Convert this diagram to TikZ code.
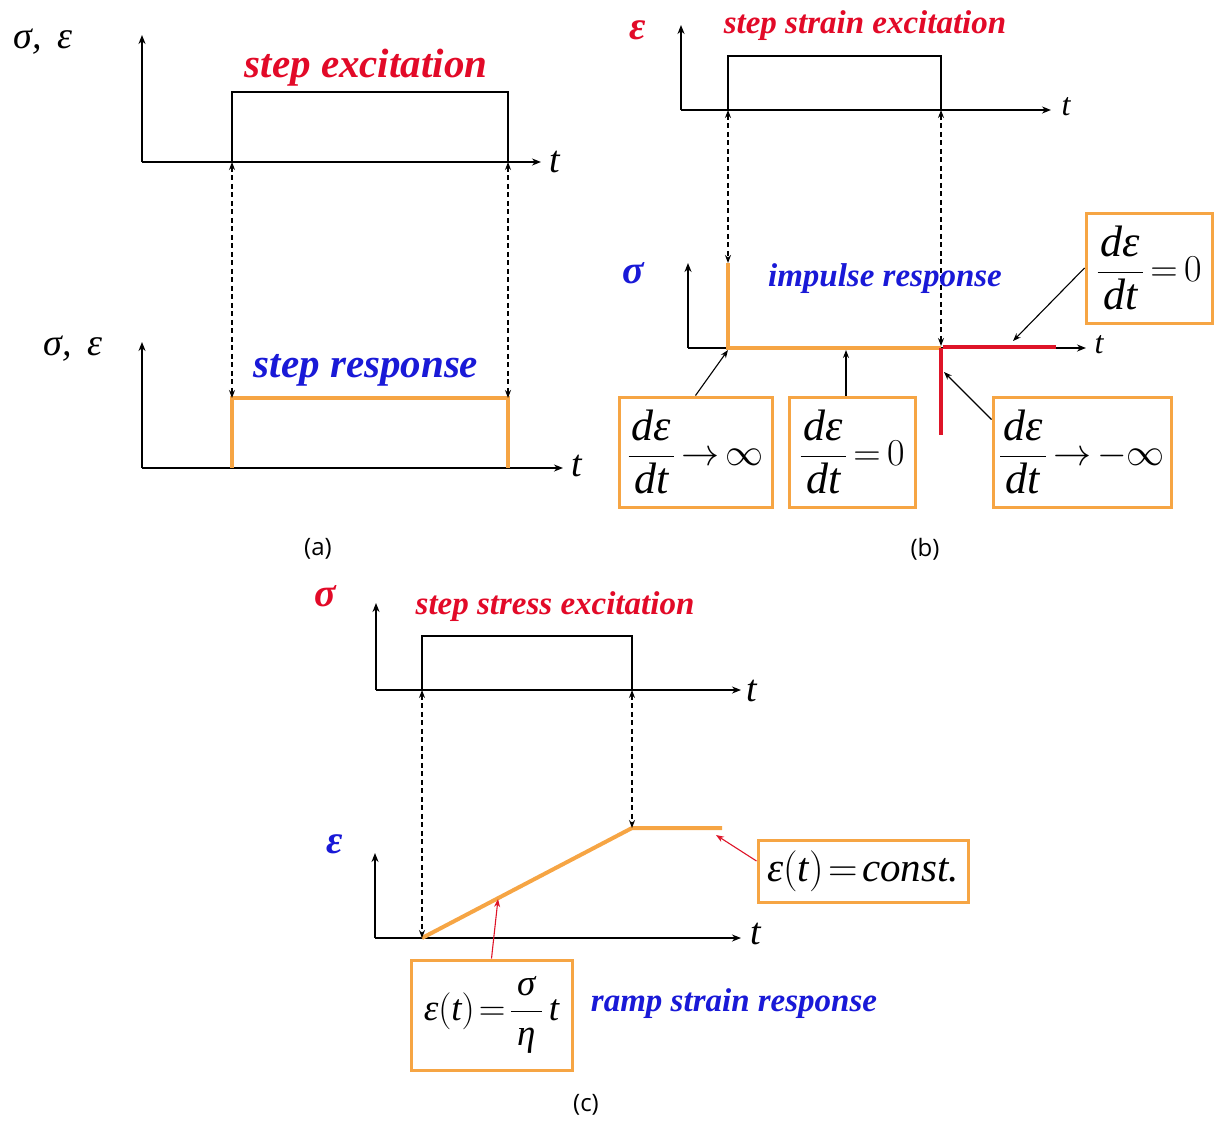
\RequirePackage{fix-cm}
\documentclass[tikz,border=0pt]{standalone}
\usepackage{fontspec}
\setmainfont{Liberation Serif}
\newfontfamily\capfont{Open Sans}
\usetikzlibrary{arrows.meta}
\definecolor{orng}{RGB}{246,165,68}
\definecolor{redtxt}{RGB}{226,10,40}
\definecolor{bluetxt}{RGB}{25,25,215}
\definecolor{redline}{RGB}{222,20,40}
\tikzset{
  axis/.style={line width=1.6pt, -{Stealth[length=9pt,width=7pt]}},
  pulse/.style={line width=1.5pt},
  dasharrow/.style={line width=1.1pt, dash pattern=on 5pt off 3.5pt,
     {Stealth[length=8pt,width=6pt]}-{Stealth[length=8pt,width=6pt]}},
  resp/.style={orng, line width=4pt},
  redresp/.style={redline, line width=4pt},
  box/.style={draw=orng, line width=3pt, inner sep=0pt, fill=white},
  callout/.style={line width=1.1pt, -{Stealth[length=8pt,width=6pt]}},
  redcallout/.style={redline, line width=1.1pt, -{Stealth[length=8pt,width=6pt]}},
  biglbl/.style={font=\fontsize{41}{44}\selectfont\bfseries\itshape},
  midlbl/.style={font=\fontsize{33}{36}\selectfont\bfseries\itshape},
  tlbl/.style={font=\fontsize{38}{40}\selectfont\itshape},
  axlbl/.style={font=\fontsize{38}{40}\selectfont\itshape},
  greek/.style={font=\fontsize{40}{42}\selectfont\bfseries\itshape},
  caplbl/.style={font=\fontsize{24}{28}\capfont},
  mathbox/.style={font=\fontsize{38}{40}\selectfont}
}
\newcommand{\bigit}[1]{\mbox{\fontsize{44}{44}\selectfont\itshape\hspace{3pt}#1\hspace{3pt}}}
\newcommand{\dedt}{\displaystyle\frac{\bigit{dε\rule[-12pt]{0pt}{12pt}}}{\bigit{\rule{0pt}{36pt}dt}}}
\begin{document}
\begin{tikzpicture}[x=1pt,y=-1pt]
\useasboundingbox (0,0) rectangle (1214,1122);
% ================= panel (a) =================
\coordinate (a1o) at (142,162); \coordinate (a1y) at (142,35); \coordinate (a1x) at (541,162);
\coordinate (a2o) at (142,468); \coordinate (a2y) at (142,342); \coordinate (a2x) at (563,468);
\coordinate (ap1) at (232,162); \coordinate (ap2) at (232,92); \coordinate (ap3) at (508,92); \coordinate (ap4) at (508,162);
\coordinate (ar1) at (232,468); \coordinate (ar2) at (232,398); \coordinate (ar3) at (508,398); \coordinate (ar4) at (508,468);
\draw[axis] (a1o) -- (a1y);
\draw[axis] (a1o) -- (a1x);
\draw[axis] (a2o) -- (a2y);
\draw[axis] (a2o) -- (a2x);
\draw[pulse] (ap1) -- (ap2) -- (ap3) -- (ap4);
\draw[resp] (ar1) -- (ar2) -- (ar3) -- (ar4);
\draw[dasharrow] (ap1) -- (ar2);
\draw[dasharrow] (ap4) -- (ar3);
\node[axlbl] (aL1) at (43,42) {σ,\, ε};
\node[axlbl] (aL2) at (73,349) {σ,\, ε};
\node[tlbl] (at1) at (555,162) {t};
\node[tlbl] (at2) at (577,466) {t};
\node[biglbl, text=redtxt] (aexc) at (366,68) {step excitation};
\node[biglbl, text=bluetxt] (aresp) at (366,370) {step response};
\node[caplbl] (capa) at (318,549) {(a)};
% ================= panel (b) =================
\coordinate (b1o) at (681,110); \coordinate (b1y) at (681,25); \coordinate (b1x) at (1051,110);
\coordinate (b2o) at (688,348); \coordinate (b2y) at (688,263); \coordinate (b2x) at (1086,348);
\coordinate (bp1) at (728,110); \coordinate (bp2) at (728,56); \coordinate (bp3) at (941,56); \coordinate (bp4) at (941,110);
\coordinate (br1) at (728,263); \coordinate (br2) at (728,348); \coordinate (br3) at (941,348);
\coordinate (bd1) at (941,346);
\coordinate (brd1) at (943,347); \coordinate (brd2) at (1056,347); \coordinate (brd3) at (941,435);
\draw[axis] (b1o) -- (b1y);
\draw[axis] (b1o) -- (b1x);
\draw[axis] (b2o) -- (b2y);
\draw[axis] (b2o) -- (b2x);
\draw[pulse] (bp1) -- (bp2) -- (bp3) -- (bp4);
\draw[resp] (br1) -- (br2) -- (br3);
\draw[redresp] (brd1) -- (brd2);
\draw[redresp] (br3) -- (brd3);
\draw[dasharrow] (bp1) -- (br1);
\draw[dasharrow] (bp4) -- (bd1);
\node[greek, text=redtxt] (beps) at (638,30) {ε};
\node[greek, text=bluetxt] (bsig) at (633,273) {σ};
\node[tlbl, font=\fontsize{32}{34}\selectfont\itshape] (bt1) at (1066,107) {t};
\node[tlbl, font=\fontsize{32}{34}\selectfont\itshape] (bt2) at (1099,345) {t};
\node[midlbl, text=redtxt] (bexc) at (865,26) {step strain excitation};
\node[midlbl, text=bluetxt] (bresp) at (885,279) {impulse response};
\node[box, mathbox, minimum width=153pt, minimum height=110pt] (bb1) at (695.5,452) {$\dedt\mathrel{\mkern-2mu\rightarrow\mkern-2mu}\infty$};
\node[box, mathbox, minimum width=126pt, minimum height=110pt] (bb2) at (852,452) {$\dedt\mathrel{\mkern-2mu=\mkern-2mu}0$};
\node[box, mathbox, minimum width=178pt, minimum height=110pt] (bb3) at (1082,452) {$\dedt\mathrel{\mkern-2mu\rightarrow\mkern-2mu}-\infty$};
\node[box, mathbox, minimum width=126pt, minimum height=110pt] (bb4) at (1149,268) {$\dedt\mathrel{\mkern-2mu=\mkern-2mu}0$};
\coordinate (bt1tip) at (728,350);
\coordinate (bt2tip) at (846,350);
\coordinate (bt3tip) at (944,372);
\coordinate (bt4tip) at (1013,341);
\draw[callout] (bb1.north) -- (bt1tip);
\draw[callout] ([xshift=-6pt]bb2.north) -- (bt2tip);
\draw[callout] ([yshift=-24pt]bb3.north west) -- (bt3tip);
\draw[callout] (bb4.west) -- (bt4tip);
\node[caplbl] (capb) at (925,549) {(b)};
% ================= panel (c) =================
\coordinate (c1o) at (376,690); \coordinate (c1y) at (376,603); \coordinate (c1x) at (741,690);
\coordinate (c2o) at (375,938); \coordinate (c2y) at (375,853); \coordinate (c2x) at (741,938);
\coordinate (cp1) at (422,690); \coordinate (cp2) at (422,636); \coordinate (cp3) at (632,636); \coordinate (cp4) at (632,690);
\coordinate (cr1) at (422,938); \coordinate (cr2) at (632,828); \coordinate (cr3) at (722,828);
\draw[axis] (c1o) -- (c1y);
\draw[axis] (c1o) -- (c1x);
\draw[axis] (c2o) -- (c2y);
\draw[axis] (c2o) -- (c2x);
\draw[pulse] (cp1) -- (cp2) -- (cp3) -- (cp4);
\draw[resp] (cr1) -- (cr2) -- (cr3);
\draw[dasharrow] (cp1) -- (cr1);
\draw[dasharrow] (cp4) -- (cr2);
\node[greek, text=redtxt] (csig) at (325,596) {σ};
\node[greek, text=bluetxt] (ceps) at (335,844) {ε};
\node[tlbl] (ct1) at (752,691) {t};
\node[tlbl] (ct2) at (756,934) {t};
\node[midlbl, text=redtxt] (cexc) at (555,607) {step stress excitation};
\node[midlbl, text=bluetxt] (cresp) at (734,1004) {ramp strain response};
\node[box, mathbox, font=\fontsize{41}{44}\selectfont, minimum width=210pt, minimum height=62pt] (cbc) at (863,871)
  {$\mbox{\itshape ε}\Bigl(\mbox{\itshape t}\Bigr)\!=\!\mbox{\itshape const.}$};
\node[box, mathbox, font=\fontsize{37}{40}\selectfont, minimum width=161pt, minimum height=110pt] (cbr) at (491.5,1015)
  {$\mbox{\itshape ε}\Bigl(\mbox{\itshape t}\Bigr)\!=\!\displaystyle\frac{\mbox{\itshape\,σ\,\rule[-6pt]{0pt}{6pt}}}{\mbox{\itshape\,η\,}}\,\mbox{\itshape t}$};
\coordinate (cctip) at (716,835);
\coordinate (crtip) at (498,899);
\draw[redcallout] ([yshift=10pt]cbc.west) -- (cctip);
\draw[redcallout] (cbr.north) -- (crtip);
\node[caplbl] (capc) at (586,1105) {(c)};
\end{tikzpicture}
\end{document}
